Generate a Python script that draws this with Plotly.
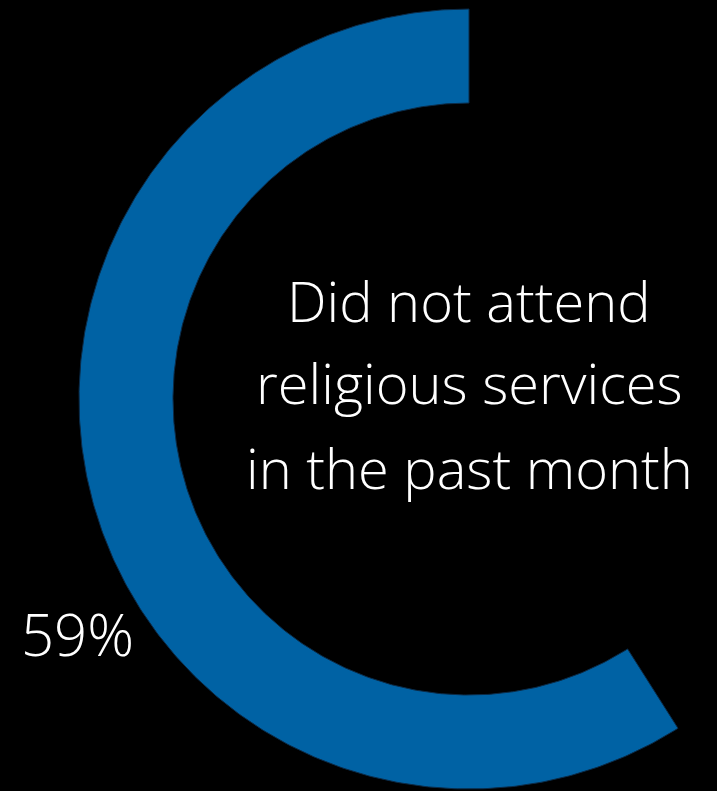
import numpy as np
import plotly.graph_objects as go

# ---- data ----
share_pct = 59
label_text = "59%"
center_lines = ["Did not attend", "religious services", "in the past month"]

# ---- geometry / style ----
W, H = 717, 791
cx, cy = 469, 399
r_out, r_in = 390, 296
blue = "#0062A4"

frac = share_pct / 100.0
theta = np.linspace(0, frac * 2 * np.pi, 400)  # counterclockwise from 12 o'clock
xo = cx - r_out * np.sin(theta)
yo = cy - r_out * np.cos(theta)
xi = cx - r_in * np.sin(theta[::-1])
yi = cy - r_in * np.cos(theta[::-1])
xs = np.concatenate([xo, xi, xo[:1]])
ys = np.concatenate([yo, yi, yo[:1]])

fig = go.Figure()
fig.add_trace(go.Scatter(x=xs, y=ys, mode="lines", fill="toself",
                         fillcolor=blue, line=dict(color="#0b2b48", width=1),
                         hoverinfo="skip", showlegend=False))

font = dict(family="'Open Sans', Lato, sans-serif", color="white", weight=300)
line_y = [300, 382, 467]
for txt, y in zip(center_lines, line_y):
    fig.add_annotation(x=cx, y=y, text=txt, showarrow=False, xanchor="center",
                       yanchor="middle", font=dict(**font, size=56))
fig.add_annotation(x=77, y=633, text=label_text, showarrow=False, xanchor="center",
                   yanchor="middle", font=dict(**font, size=58))

fig.update_layout(width=W, height=H, margin=dict(l=0, r=0, t=0, b=0),
                  paper_bgcolor="black", plot_bgcolor="black",
                  xaxis=dict(range=[0, W], visible=False, fixedrange=True),
                  yaxis=dict(range=[H, 0], visible=False, fixedrange=True),
                  showlegend=False)
fig.write_html("out.html", config={"displayModeBar": False},
               post_script="document.body.style.margin='0';document.body.style.background='black';")
